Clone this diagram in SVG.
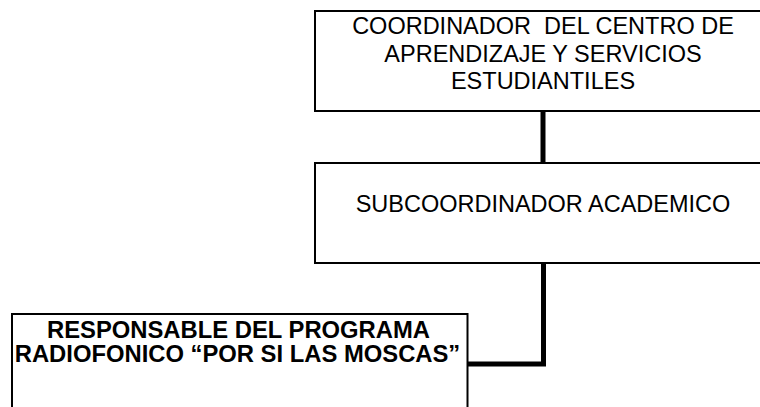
<svg xmlns="http://www.w3.org/2000/svg" width="760" height="407" viewBox="0 0 760 407">
<style>
.box{fill:#fff;stroke:#000;stroke-width:2}
.t{font-family:"Liberation Sans",Arial,sans-serif;font-size:23.5px;fill:#000;text-anchor:middle}
.b{font-family:"Liberation Sans",Arial,sans-serif;font-size:23.8px;font-weight:bold;fill:#000;text-anchor:middle}
.c{fill:none;stroke:#000;stroke-width:5;stroke-linejoin:miter}
</style>
<rect width="760" height="407" fill="#fff"/>
<g id="connectors">
<line class="c" x1="543" y1="111" x2="543" y2="163"/>
<polyline class="c" points="543.5,263 543.5,364 467,364"/>
</g>
<g id="coordinador">
<rect class="box" x="315" y="11" width="460" height="100"/>
<text class="t" x="543" y="33.5" xml:space="preserve">COORDINADOR  DEL CENTRO DE</text>
<text class="t" x="543" y="61.5">APRENDIZAJE Y SERVICIOS</text>
<text class="t" x="543" y="88.5">ESTUDIANTILES</text>
</g>
<g id="subcoordinador">
<rect class="box" x="315" y="163" width="460" height="100"/>
<text class="t" x="543" y="211.5">SUBCOORDINADOR ACADEMICO</text>
</g>
<g id="responsable">
<rect class="box" x="12" y="314" width="455.5" height="110"/>
<text class="b" x="238.5" y="337.7">RESPONSABLE DEL PROGRAMA</text>
<text class="b" x="237.5" y="362.3">RADIOFONICO “POR SI LAS MOSCAS”</text>
</g>
</svg>
